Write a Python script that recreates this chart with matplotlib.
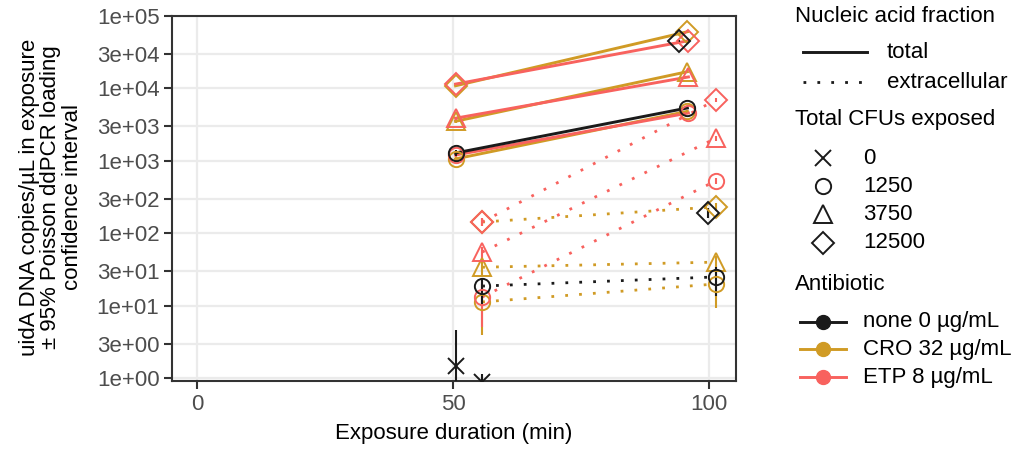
import numpy as np
import pandas as pd
import matplotlib
matplotlib.use("Agg")
import matplotlib.pyplot as plt
from matplotlib.ticker import FixedLocator, NullLocator

plt.rcParams['font.family'] = ['Liberation Sans', 'DejaVu Sans']
plt.rcParams['font.size'] = 16

# values
fraction = ['total'] * 16 + ['extracellular'] * 16
antibiotic = (['none'] * 4 + ['CRO'] * 6 + ['ETP'] * 6
              + ['none'] * 4 + ['CRO'] * 6 + ['ETP'] * 6)
cfus = [0, 1250, 1250, 12500,
        1250, 1250, 3750, 3750, 12500, 12500,
        1250, 1250, 3750, 3750, 12500, 12500,
        0, 1250, 1250, 12500,
        1250, 1250, 3750, 3750, 12500, 12500,
        1250, 1250, 3750, 3750, 12500, 12500]
minutes = [50.5, 50.5, 95.8, 94.2,
           50.5, 95.8, 50.5, 95.8, 50.5, 95.8,
           50.5, 96.0, 50.5, 96.0, 50.5, 96.0,
           55.7, 55.7, 101.4, 99.8,
           55.7, 101.4, 55.7, 101.4, 55.7, 101.4,
           55.7, 101.4, 55.7, 101.4, 55.7, 101.4]
copies = [1.5, 1280, 5340, 45200,
          1060, 4800, 3500, 16900, 10800, 60100,
          1200, 4550, 3860, 14300, 11400, 45200,
          0.88, 18.7, 25, 191,
          11.3, 20, 34, 40, 143, 231,
          13.2, 530, 55, 2050, 143, 6880]
ci_lo = [0.4, 1180, 5100, 44000,
         980, 4600, 3350, 16500, 10500, 59000,
         1110, 4350, 3700, 13900, 11100, 44000,
         0.5, 10.5, 13.6, 160,
         4.0, 9.4, 26, 32, 125, 205,
         5.1, 480, 45, 1900, 125, 6500]
ci_hi = [4.6, 1390, 5600, 46400,
         1140, 5000, 3650, 17300, 11100, 61200,
         1290, 4750, 4020, 14700, 11700, 46400,
         1.15, 24, 34, 225,
         20, 30, 42, 48, 160, 260,
         22, 580, 65, 2200, 160, 7250]

abx_order = ['CRO', 'ETP', 'none']
abx_colors = {'none': '#1a1a1a', 'CRO': '#D09B25', 'ETP': '#F8625E'}
abx_labels = ['none 0 µg/mL', 'CRO 32 µg/mL', 'ETP 8 µg/mL']
cfu_levels = [0, 1250, 3750, 12500]
cfu_markers = {0: 'x', 1250: 'o', 3750: '^', 12500: 'D'}
cfu_ms = {0: 11, 1250: 11, 3750: 13, 12500: 11}
frac_styles = {'total': '-', 'extracellular': (0, (1, 4))}

yticks = [1, 3, 10, 30, 100, 300, 1e3, 3e3, 1e4, 3e4, 1e5]
ytick_labels = ['1e+00', '3e+00', '1e+01', '3e+01', '1e+02', '3e+02',
                '1e+03', '3e+03', '1e+04', '3e+04', '1e+05']
xticks = [0, 50, 100]

df = pd.DataFrame({'fraction': fraction, 'antibiotic': antibiotic, 'cfus': cfus,
                   'minutes': minutes, 'copies': copies, 'lo': ci_lo, 'hi': ci_hi})

W, H = 1017, 450
fig = plt.figure(figsize=(W / 100, H / 100), dpi=100)
left, right, top, bottom = 172, 736, 15.7, 381
ax = fig.add_axes([left / W, 1 - bottom / H, (right - left) / W, (bottom - top) / H])

ax.set_yscale('log')
ax.set_ylim(0.918, 1e5)
ax.set_xlim(-4.9, 105.3)
ax.yaxis.set_major_locator(FixedLocator(yticks))
ax.yaxis.set_minor_locator(NullLocator())
ax.set_yticklabels(ytick_labels)
ax.set_xticks(xticks)
ax.grid(True, color='#EBEBEB', lw=1.6)
ax.set_axisbelow(True)
for s in ax.spines.values():
    s.set_color('#333333')
    s.set_linewidth(1.5)
ax.tick_params(length=6, width=1.5, color='#333333', labelcolor='#4D4D4D',
               labelsize=16, pad=3)

# lines
for abx in abx_order:
    for frac in ['total', 'extracellular']:
        for cfu in cfu_levels:
            g = df[(df.antibiotic == abx) & (df.fraction == frac) & (df.cfus == cfu)]
            g = g.sort_values('minutes')
            if len(g) > 1:
                ax.plot(g.minutes, g.copies, color=abx_colors[abx],
                        ls=frac_styles[frac], lw=2.1 if frac == 'total' else 2.0,
                        dash_capstyle='butt', zorder=2)

# error bars
for abx in abx_order:
    g = df[df.antibiotic == abx]
    ax.vlines(g.minutes, g.lo, g.hi, color=abx_colors[abx], lw=1.5, zorder=3)

# points
for abx in abx_order:
    for cfu in cfu_levels:
        g = df[(df.antibiotic == abx) & (df.cfus == cfu)]
        if len(g):
            ax.plot(g.minutes, g.copies, ls='none', marker=cfu_markers[cfu],
                    ms=cfu_ms[cfu], mfc='none', mec=abx_colors[abx], mew=1.4,
                    zorder=4, clip_on=True)

ax.set_xlabel('Exposure duration (min)', fontsize=16, labelpad=6)
fig.text(51 / W, 1 - 197 / H,
         'uidA DNA copies/µL in exposure\n± 95% Poisson ddPCR loading\nconfidence interval',
         rotation=90, ha='center', va='center', fontsize=16, linespacing=1.05)

# legend drawn in pixel coordinates
lg = fig.add_axes([0, 0, 1, 1])
lg.set_xlim(0, W)
lg.set_ylim(H, 0)
lg.axis('off')

lg.text(795, 17, 'Nucleic acid fraction', fontsize=16, va='center')
lg.plot([803, 867], [52, 52], color='#1a1a1a', lw=2.1)
lg.text(887, 52, 'total', fontsize=16, va='center')
lg.plot([803, 867], [82, 82], color='#1a1a1a', lw=2.0, ls=(0, (1, 4)),
        dash_capstyle='butt')
lg.text(887, 82, 'extracellular', fontsize=16, va='center')

lg.text(795, 120, 'Total CFUs exposed', fontsize=16, va='center')
for cfu, yy in zip(cfu_levels, [158, 186, 214, 243]):
    lg.plot([823], [yy], marker=cfu_markers[cfu], ms=cfu_ms[cfu], mfc='none',
            mec='#1a1a1a', mew=1.4, ls='none')
    lg.text(863, yy, str(cfu), fontsize=16, va='center')

lg.text(795, 284, 'Antibiotic', fontsize=16, va='center')
for abx, lab, yy in zip(['none', 'CRO', 'ETP'], abx_labels, [322, 349, 377]):
    lg.plot([800, 846], [yy, yy], color=abx_colors[abx], lw=2.1)
    lg.plot([823], [yy], marker='o', ms=10, color=abx_colors[abx], ls='none')
    lg.text(863, yy, lab, fontsize=16, va='center')

fig.savefig('out.png', dpi=100)
